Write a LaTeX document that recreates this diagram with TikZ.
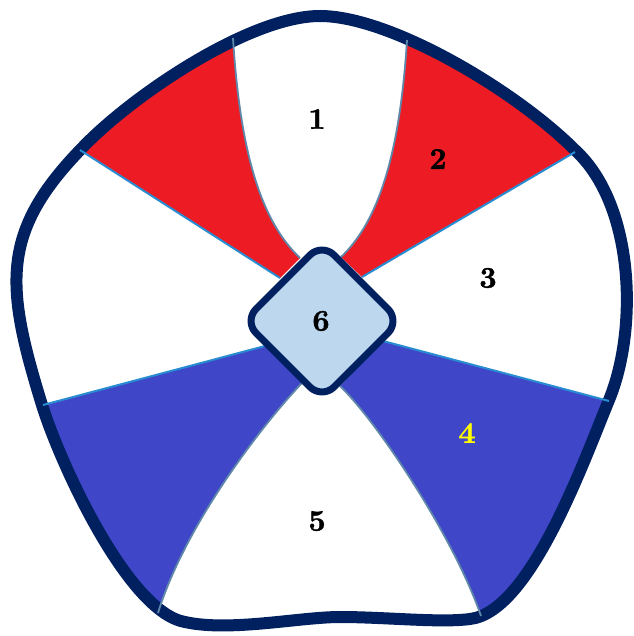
\documentclass[tikz,border=0pt]{standalone}
\usepackage{fontspec}
\newfontfamily\lblfont{lmroman10-bold}[Extension=.otf, FakeBold=1.2]
\definecolor{navy}{RGB}{0,32,96}
\definecolor{segred}{RGB}{237,28,36}
\definecolor{segblue}{RGB}{64,70,200}
\definecolor{paleblue}{RGB}{189,215,238}
\definecolor{lineblue}{RGB}{40,140,210}
\definecolor{curveblue}{RGB}{95,135,170}
\definecolor{lblyellow}{RGB}{255,255,0}
\begin{document}
\begin{tikzpicture}[x=1pt,y=-1pt,
  border/.style={draw=navy, line width=12pt, line join=round},
  spoke/.style={draw=lineblue, line width=2pt},
  arcline/.style={draw=curveblue, line width=1.8pt},
  hub/.style={draw=navy, fill=paleblue, line width=7pt, rounded corners=17pt},
  lbl/.style={font=\fontsize{30}{35}\selectfont\lblfont, text=black, inner sep=0pt}]
\useasboundingbox (0,0) rectangle (633,636);
\def\outline{(320,16) .. controls (390,16) and (515,90) .. (575,150)
  .. controls (635,205) and (638,330) .. (609,400)
  .. controls (583,463) and (530,612) .. (470,619)
  .. controls (440,623) and (385,617) .. (340,617)
  .. controls (300,617) and (230,632) .. (185,622)
  .. controls (128,612) and (60,463) .. (42,405)
  .. controls (5,285) and (0,232) .. (83,147)
  .. controls (133,95) and (250,16) .. (320,16) -- cycle}
% coloured sectors
\begin{scope}
  \clip \outline;
  \fill[segred] (280,278) -- (0,99) -- (0,0) -- (232,0) -- (233,38)
    .. controls (240,150) and (260,220) .. (300,258) -- cycle;
  \fill[segred] (362,277) -- (640,114) -- (640,0) -- (408,0) -- (407,40)
    .. controls (400,150) and (380,220) .. (341,257) -- cycle;
  \fill[segblue] (383,341) -- (640,409) -- (640,640) -- (484,640) -- (481,616)
    .. controls (455,540) and (380,425) .. (340,386) -- cycle;
  \fill[segblue] (265,346) -- (-10,420) -- (-10,640) -- (156,640) -- (158,613)
    .. controls (185,525) and (262,425) .. (302,383) -- cycle;
\end{scope}
% outer border
\path[border] \outline;
% dividing lines
\coordinate (hTL) at (280,278);
\coordinate (hTR) at (362,277);
\coordinate (hBR) at (383,341);
\coordinate (hBL) at (265,346);
\coordinate (oTL) at (80,150);
\coordinate (oTR) at (575,152);
\coordinate (oBR) at (609,401);
\coordinate (oBL) at (43,405);
\path[spoke] (hTL) -- (oTL);
\path[spoke] (hTR) -- (oTR);
\path[spoke] (hBR) -- (oBR);
\path[spoke] (hBL) -- (oBL);
\coordinate (cA) at (233,38);
\coordinate (cB) at (300,258);
\coordinate (cC) at (407,40);
\coordinate (cD) at (341,257);
\coordinate (cE) at (340,386);
\coordinate (cF) at (481,616);
\coordinate (cG) at (302,383);
\coordinate (cH) at (158,613);
\path[arcline] (cA) .. controls (240,150) and (260,220) .. (cB);
\path[arcline] (cC) .. controls (400,150) and (380,220) .. (cD);
\path[arcline] (cE) .. controls (380,425) and (455,540) .. (cF);
\path[arcline] (cG) .. controls (262,425) and (185,525) .. (cH);
% hub
\path[hub] (322,243) -- (400,321) -- (322,399) -- (244,321) -- cycle;
% labels
\node[lbl] (l1) at (317,119) {1};
\node[lbl] (l2) at (438,159) {2};
\node[lbl] (l3) at (488,278) {3};
\node[lbl, text=lblyellow] (l4) at (467,433) {4};
\node[lbl] (l5) at (317,521) {5};
\node[lbl] (l6) at (321,321) {6};
\end{tikzpicture}
\end{document}
